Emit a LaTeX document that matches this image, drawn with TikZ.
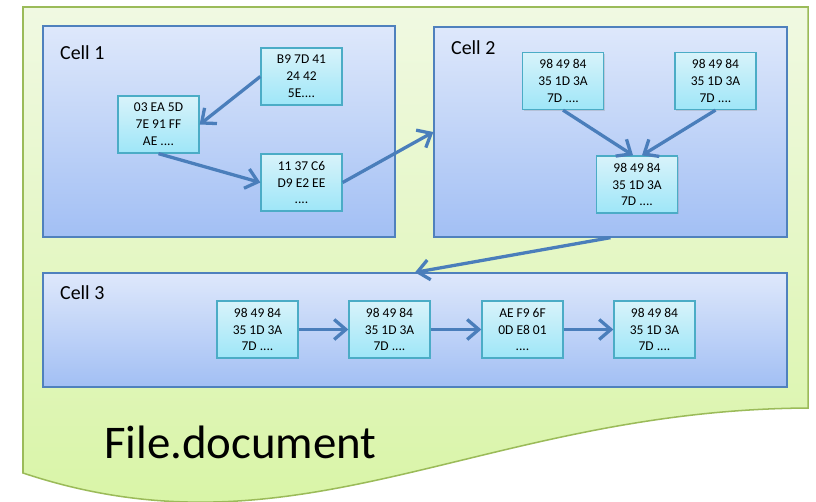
\documentclass[tikz,border=0pt]{standalone}
\usepackage{fontspec}
\setmainfont{Carlito}
\usetikzlibrary{arrows.meta,shadows}

\definecolor{docline}{RGB}{155,187,89}
\definecolor{doctop}{RGB}{240,249,226}
\definecolor{docbot}{RGB}{214,244,160}
\definecolor{cellline}{RGB}{79,129,189}
\definecolor{celltop}{RGB}{222,232,251}
\definecolor{cellbot}{RGB}{162,191,244}
\definecolor{boxline}{RGB}{75,172,198}
\definecolor{boxtop}{RGB}{216,243,250}
\definecolor{boxbot}{RGB}{158,230,248}
\definecolor{flowblue}{RGB}{74,126,187}

\tikzset{
  cellbox/.style={draw=cellline, line width=1.1pt, top color=celltop, bottom color=cellbot,
    inner sep=0pt, drop shadow={opacity=0.25, shadow xshift=1pt, shadow yshift=-1pt}},
  databox/.style={draw=boxline, line width=1.1pt, top color=boxtop, bottom color=boxbot,
    minimum width=2.43cm, minimum height=1.71cm, inner sep=0pt, align=center,
    font=\fontsize{11.5}{14.4}\selectfont,
    drop shadow={opacity=0.25, shadow xshift=1pt, shadow yshift=-1pt}},
  celllabel/.style={anchor=base west, font=\fontsize{17}{20}\selectfont},
  flow/.style={draw=flowblue, line width=2.8pt, -{Straight Barb[length=3.5mm,width=6mm]}}
}

\begin{document}
\begin{tikzpicture}[x=0.03cm, y=-0.03cm]
    \useasboundingbox (0,0) rectangle (816,501);

    % document sheet
    \draw[draw=docline, line width=1.3pt, top color=doctop, bottom color=docbot]
        (23,7) -- (808,7) -- (808,408) .. controls (480,410) and (300,565) .. (23,473) -- cycle;
    \node[anchor=base west, font=\fontsize{40}{48}\selectfont] (title) at (100,458) {File.document};

    % cells
    \node[cellbox, minimum width=10.56cm, minimum height=6.33cm] (cell1) at (219,131.5) {};
    \node[cellbox, minimum width=10.59cm, minimum height=6.3cm] (cell2) at (610.5,132) {};
    \node[cellbox, minimum width=22.32cm, minimum height=3.42cm] (cell3) at (415,330) {};
    \node[celllabel] (lab1) at (56,59) {Cell 1};
    \node[celllabel] (lab2) at (447,54) {Cell 2};
    \node[celllabel] (lab3) at (56,299) {Cell 3};

    % Cell 1
    \node[databox] (a1) at (301.5,76.5) {B9 7D 41\\24 42\\5E....};
    \node[databox] (a2) at (158.5,124.5) {03 EA 5D\\7E 91 FF\\AE ....};
    \node[databox] (a3) at (301.5,182.5) {11 37 C6\\D9 E2 EE\\....};

    % Cell 2
    \node[databox] (b1) at (563,81) {98 49 84\\35 1D 3A\\7D ....};
    \node[databox] (b2) at (715.5,81) {98 49 84\\35 1D 3A\\7D ....};
    \node[databox] (b3) at (637,184.5) {98 49 84\\35 1D 3A\\7D ....};

    % Cell 3
    \node[databox] (c1) at (257.5,329.5) {98 49 84\\35 1D 3A\\7D ....};
    \node[databox] (c2) at (389.5,329.5) {98 49 84\\35 1D 3A\\7D ....};
    \node[databox] (c3) at (522.5,329.5) {AE F9 6F\\0D E8 01\\....};
    \node[databox] (c4) at (654.5,329.5) {98 49 84\\35 1D 3A\\7D ....};

    % arrows
    \draw[flow] (a1.west) -- (a2.east);
    \draw[flow] (a2.south) -- (a3.west);
    \draw[flow] (a3.east) -- (cell2.west);
    \draw[flow] (b1.south) -- ([xshift=-0.12cm]b3.north);
    \draw[flow] (b2.south) -- ([xshift=0.15cm]b3.north);
    \draw[flow] (cell2.south) -- (cell3.north);
    \draw[flow] (c1.east) -- (c2.west);
    \draw[flow] (c2.east) -- (c3.west);
    \draw[flow] (c3.east) -- (c4.west);
\end{tikzpicture}
\end{document}
